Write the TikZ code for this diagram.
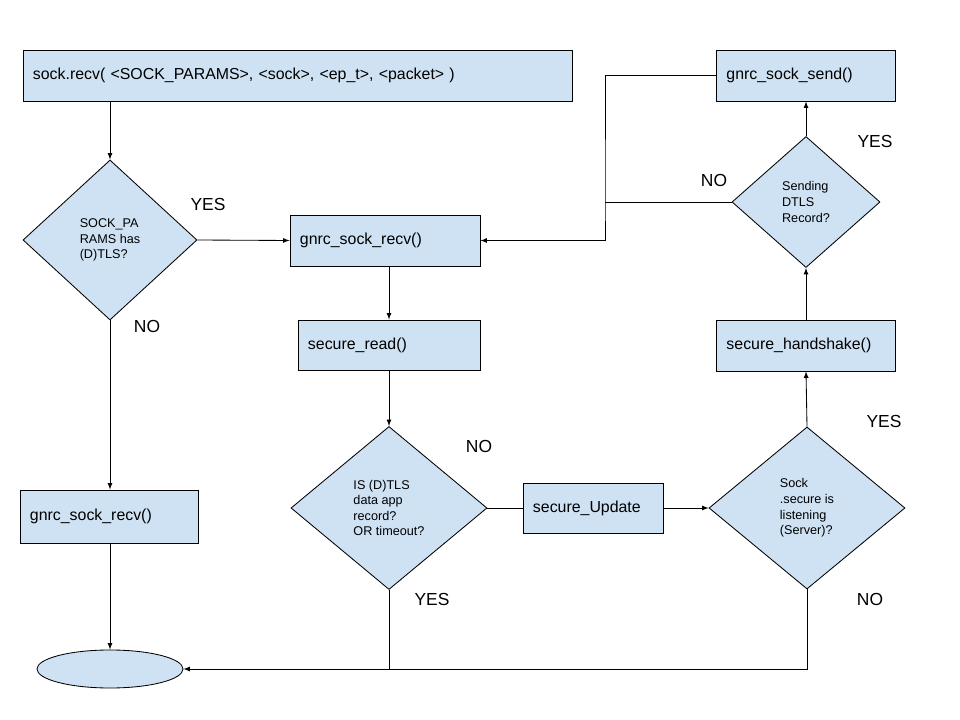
\documentclass[tikz,border=0pt]{standalone}
\usepackage{fontspec}
\setmainfont{Liberation Sans}
\usepackage{tikz}
\usetikzlibrary{calc}
\usetikzlibrary{arrows}
\usetikzlibrary{shapes.geometric}
\definecolor{boxblue}{RGB}{207,226,243}
\tikzset{%
  myedge/.style={->, >=latex, line width=0.6pt},
  myline/.style={line width=0.6pt},
  mybox/.style={rectangle, draw=black, fill=boxblue, line width=0.6pt, inner xsep=0.25cm,
    minimum height=1.275cm, align=left, font=\fontsize{11.3}{13}\selectfont},
  mydiam/.style={diamond, draw=black, fill=boxblue, line width=0.6pt, inner sep=0pt,
    align=left, font=\fontsize{9}{11.1}\selectfont},
  mylabel/.style={font=\fontsize{12.4}{14}\selectfont}
}
\begin{document}
\begin{tikzpicture}[x=0.025cm, y=-0.025cm]
  \useasboundingbox (0,0) rectangle (960,720);
  \node[mybox, text width=13.225cm] (recvtop) at (297.5,75.5) {sock.recv( <SOCK\_PARAMS>, <sock>, <ep\_t>, <packet> )};
  \node[mydiam, minimum width=4.35cm, minimum height=4cm] (hasdtls) at (110,240) {SOCK\_PA\\RAMS has\\(D)TLS?};
  \node[mybox, text width=3.95cm, minimum height=1.325cm] (recvleft) at (109,516.5) {gnrc\_sock\_recv()};
  \node[ellipse, draw=black, fill=boxblue, line width=0.6pt, minimum width=3.65cm, minimum height=0.95cm] (finish) at (110,669) {};
  \node[mybox, text width=4.25cm] (recvmid) at (385,240.5) {gnrc\_sock\_recv()};
  \node[mybox, text width=4.05cm, minimum height=1.25cm] (secread) at (389,345) {secure\_read()};
  \node[mydiam, minimum width=4.9cm, minimum height=4.075cm] (appdata) at (389,508) {IS (D)TLS\\data app\\record?\\OR timeout?};
  \node[mybox, text width=3cm, minimum height=1.25cm] (secupdate) at (593,508) {secure\_Update};
  \node[mydiam, minimum width=4.9cm, minimum height=4.05cm] (listening) at (807,508) {Sock\\.secure is\\listening\\(Server)?};
  \node[mybox, text width=3.975cm] (handshake) at (806,345.5) {secure\_handshake()};
  \node[mydiam, minimum width=3.7cm, minimum height=3.275cm] (sending) at (806,202) {Sending\\DTLS\\Record?};
  \node[mybox, text width=3.975cm] (socksend) at (806,75.5) {gnrc\_sock\_send()};
  \node[mylabel] (yes1) at (208,205) {YES};
  \node[mylabel] (no1) at (147,327) {NO};
  \node[mylabel] (no2) at (479,446) {NO};
  \node[mylabel] (yes2) at (432,599) {YES};
  \node[mylabel] (yes3) at (884,421) {YES};
  \node[mylabel] (no3) at (870,599) {NO};
  \node[mylabel] (yes4) at (875,142) {YES};
  \node[mylabel] (no4) at (714,181) {NO};
  \coordinate (loop) at (605,202);
  \coordinate (join) at (appdata.south |- finish.east);
  \draw [myedge] (hasdtls.north |- recvtop.south) -- (hasdtls.north);
  \draw [myedge] (hasdtls.east) -- (recvmid.west);
  \draw [myedge] (hasdtls.south) -- (hasdtls.south |- recvleft.north);
  \draw [myedge] (finish.north |- recvleft.south) -- (finish.north);
  \draw [myedge] (secread.north |- recvmid.south) -- (secread.north);
  \draw [myedge] (secread.south) -- (appdata.north);
  \draw [myline] (appdata.east) -- (secupdate.west);
  \draw [myedge] (secupdate.east) -- (listening.west);
  \draw [myedge] (listening.north) -- (handshake.south);
  \draw [myedge] (handshake.north) -- (sending.south);
  \draw [myedge] (sending.north) -- (socksend.south);
  \draw [myline] (sending.west) -- (loop);
  \draw [myedge] (socksend.west) -| (loop) |- (recvmid.east);
  \draw [myedge] (appdata.south) |- (finish.east);
  \draw [myline] (listening.south) |- (join);
\end{tikzpicture}
\end{document}
